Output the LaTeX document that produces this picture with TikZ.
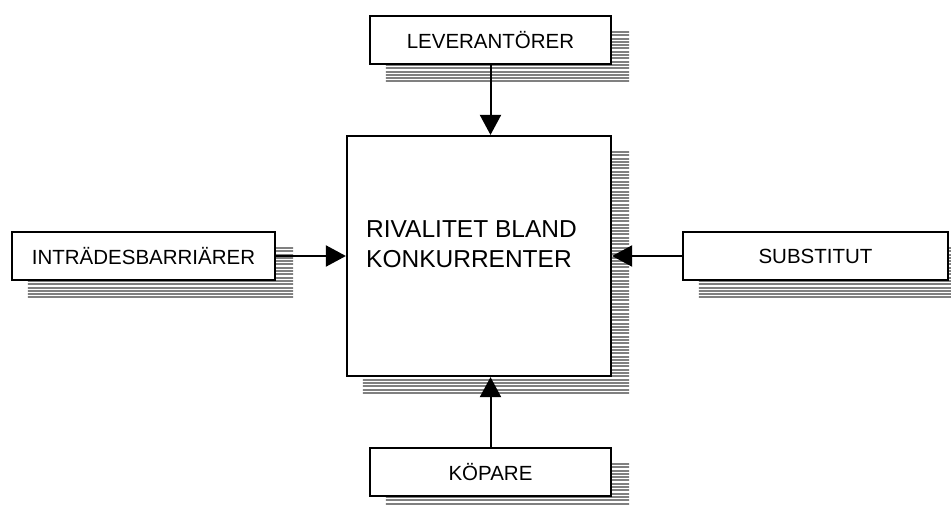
\documentclass[tikz,border=0pt]{standalone}
\usepackage{fontspec}
\setmainfont{Liberation Sans}
\usetikzlibrary{arrows.meta,calc,backgrounds}

\tikzset{
  card/.style={draw=black, line width=2.2pt, fill=white, inner sep=0pt,
    minimum width=#1, minimum height=48pt,
    font=\fontsize{20.5}{24}\selectfont},
  bigcard/.style={draw=black, line width=2.2pt, fill=white, inner sep=0pt,
    minimum width=264pt, minimum height=240pt},
  bigtext/.style={inner sep=0pt, align=left, anchor=north west,
    font=\fontsize{24.5}{30}\selectfont},
  stripe/.style={draw=black!50, line width=2pt},
  flow/.style={line width=2pt, -{Triangle[width=21pt,length=20pt]}}
}

% hatched drop shadow, offset down and to the right of a node
\newcommand\stripeshadow[1]{%
  \begin{scope}
    \clip ($(#1.north west)+(17,16)$) rectangle ($(#1.south east)+(17,16)$);
    \foreach \k in {0,...,80}
      \draw[stripe] ($(#1.north west)+(0,17+3.3*\k)$) -- ++(420,0);
  \end{scope}}

\begin{document}
\begin{tikzpicture}[x=1pt,y=-1pt]
  \useasboundingbox (0,0) rectangle (951,504);
  \clip (0,0) rectangle (951,504);

  \node[bigcard] (main) at (479,256) {};
  \node[bigtext] (maintext) at (366,220) {RIVALITET BLAND\\KONKURRENTER};

  \node[card=241pt] (lev)  at (490.5,40)  {LEVERANTÖRER};
  \node[card=263pt] (intr) at (143.5,256) {INTRÄDESBARRIÄRER};
  \node[card=265pt] (sub)  at (815.5,256) {SUBSTITUT};
  \node[card=241pt] (kop)  at (490.5,472) {KÖPARE};

  \begin{pgfonlayer}{background}
    \stripeshadow{main}
    \stripeshadow{lev}
    \stripeshadow{intr}
    \stripeshadow{sub}
    \stripeshadow{kop}
  \end{pgfonlayer}

  \draw[flow] (lev.south) -- (lev.south |- main.north);
  \draw[flow] (kop.north) -- (kop.north |- main.south);
  \draw[flow] (intr.east) -- (intr.east -| main.west);
  \draw[flow] (sub.west) -- (sub.west -| main.east);
\end{tikzpicture}
\end{document}
